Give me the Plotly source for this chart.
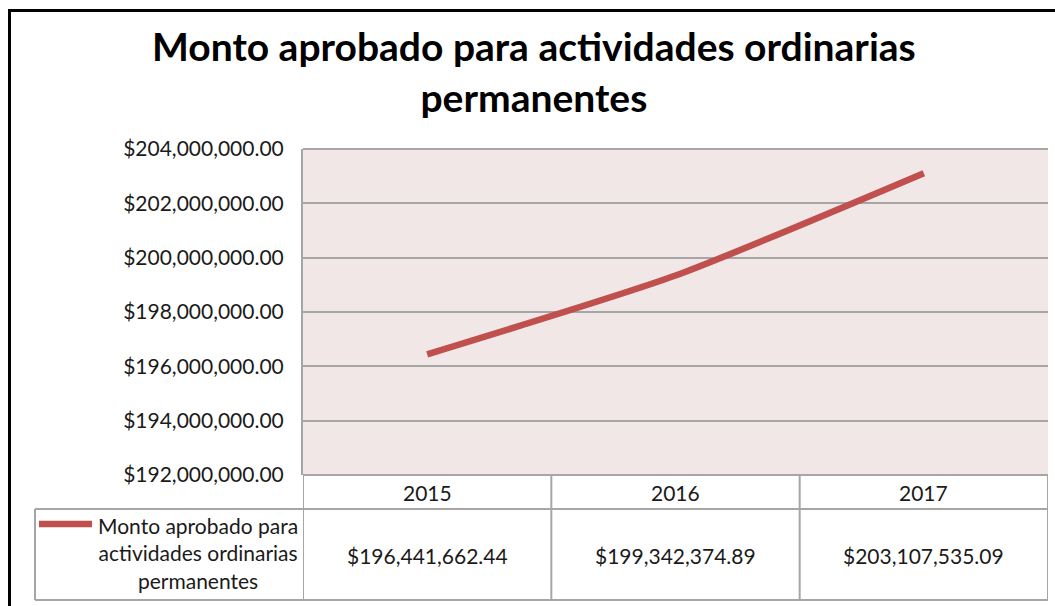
import plotly.graph_objects as go

years = ["2015", "2016", "2017"]
montos = [196441662.44, 199342374.89, 203107535.09]
series_name = "Monto aprobado para actividades ordinarias permanentes"
title_text = "Monto aprobado para actividades ordinarias<br>permanentes"
y_ticks = [192e6, 194e6, 196e6, 198e6, 200e6, 202e6, 204e6]

W, H = 1055, 606
def px(x):
    return x / W
def py(y):
    return 1 - y / H

FONT = "Lato"
LINE_COLOR = "#C0504D"
GRID = "#A6A6A6"
TXT = "#1a1a1a"

fig = go.Figure()
fig.add_trace(go.Scatter(
    x=[0, 1, 2], y=montos, mode="lines", name=series_name,
    line=dict(color=LINE_COLOR, width=6.5, shape="spline", smoothing=0.6),
    showlegend=False, hoverinfo="y",
))

x0p, x1p = 303, 1048
y_top, y_bot = 149, 475
hdr_bot, tbl_bot = 509, 600

fig.update_layout(
    width=W, height=H, autosize=False,
    margin=dict(l=0, r=0, t=0, b=0, autoexpand=False),
    paper_bgcolor="white",
    plot_bgcolor="#F2E7E7",
    font=dict(family=FONT, color=TXT, size=21),
    xaxis=dict(domain=[px(x0p), px(x1p)], range=[-0.5, 2.5],
               showticklabels=False, showgrid=False, zeroline=False,
               showline=False, fixedrange=True),
    yaxis=dict(domain=[py(y_bot), py(y_top)], range=[192e6, 204e6],
               tickvals=y_ticks, tickformat="$,.2f",
               showgrid=True, gridcolor=GRID, gridwidth=2,
               zeroline=False, showline=True, linecolor=GRID, linewidth=2,
               ticks="", ticklabelstandoff=13, automargin=False,
               tickfont=dict(size=21, family=FONT, color=TXT)),
)

shapes = []
shapes.append(dict(type="line", xref="paper", yref="paper",
                   x0=px(8), x1=1.01, y0=py(10.5), y1=py(10.5),
                   line=dict(color="black", width=3)))
shapes.append(dict(type="line", xref="paper", yref="paper",
                   x0=px(9.5), x1=px(9.5), y0=py(9), y1=-0.01,
                   line=dict(color="black", width=3)))
shapes.append(dict(type="line", xref="paper", yref="paper",
                   x0=px(x0p), x1=px(x1p), y0=py(y_top), y1=py(y_top),
                   line=dict(color=GRID, width=2)))
tl = dict(color=GRID, width=2)
for b in [-0.5, 0.5, 1.5, 2.5]:
    shapes.append(dict(type="line", xref="x", yref="paper", x0=b, x1=b,
                       y0=py(y_bot), y1=py(tbl_bot), line=tl))
for yy in [y_bot, hdr_bot, tbl_bot]:
    shapes.append(dict(type="line", xref="x", yref="paper", x0=-0.5, x1=2.5,
                       y0=py(yy), y1=py(yy), line=tl))
for yy in [hdr_bot, tbl_bot]:
    shapes.append(dict(type="line", xref="paper", yref="paper", x0=px(35), x1=px(x0p),
                       y0=py(yy), y1=py(yy), line=tl))
shapes.append(dict(type="line", xref="paper", yref="paper", x0=px(35), x1=px(35),
                   y0=py(hdr_bot), y1=py(tbl_bot), line=tl))
shapes.append(dict(type="line", xref="paper", yref="paper", x0=px(39), x1=px(92),
                   y0=py(524), y1=py(524), line=dict(color=LINE_COLOR, width=6.5)))
fig.update_layout(shapes=shapes)

ann = []
ann.append(dict(text="<b>" + title_text + "</b>", xref="paper", yref="paper",
                x=px(534), y=py(71), xanchor="center", yanchor="middle",
                showarrow=False, font=dict(size=39, family=FONT, color="black"),
                align="center"))
for i, yr in enumerate(years):
    ann.append(dict(text=yr, xref="x", yref="paper", x=i, y=py(492),
                    xanchor="center", yanchor="middle", showarrow=False,
                    font=dict(size=21, family=FONT, color=TXT)))
    ann.append(dict(text="${:,.2f}".format(montos[i]), xref="x", yref="paper", x=i,
                    y=py(555), xanchor="center", yanchor="middle", showarrow=False,
                    font=dict(size=21, family=FONT, color=TXT)))
ann.append(dict(text="Monto aprobado para<br>actividades ordinarias<br>permanentes",
                xref="paper", yref="paper", x=px(198), y=py(553),
                xanchor="center", yanchor="middle", showarrow=False, align="center",
                font=dict(size=21, family=FONT, color=TXT)))
fig.update_layout(annotations=ann)

fig.write_html("out.html", config={"displayModeBar": False},
               post_script="document.body.style.margin='0';document.body.style.overflow='hidden';")
